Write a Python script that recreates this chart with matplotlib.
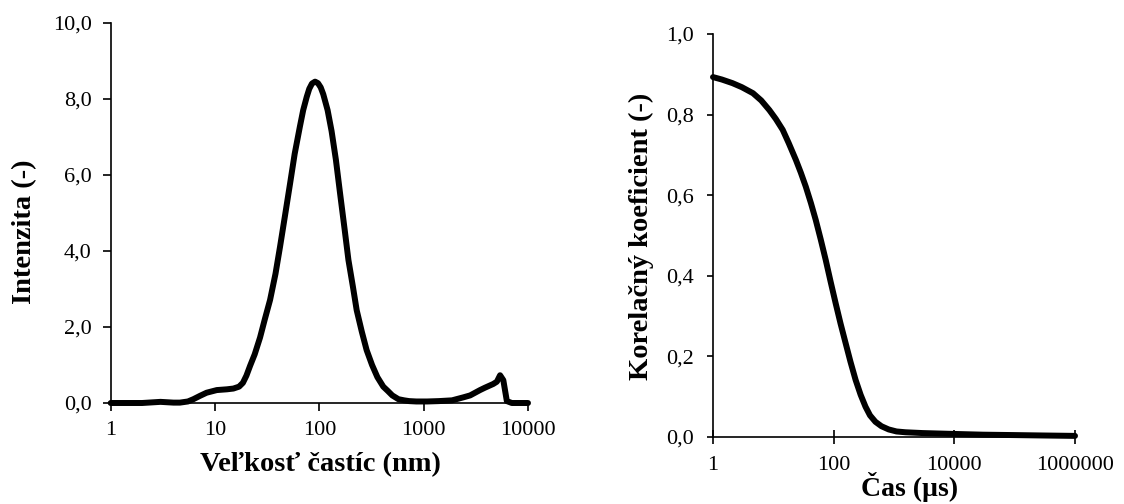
import matplotlib
matplotlib.use('Agg')
import matplotlib.pyplot as plt
from matplotlib.ticker import FixedLocator, FuncFormatter, NullLocator

plt.rcParams['font.family'] = ['Liberation Serif', 'DejaVu Serif']

# particle size distribution (intensity vs. size, nm)
size_nm = [1, 2, 3, 4, 4.6, 5.5, 6.2, 7.2, 8.3, 10.4, 13, 15, 17, 18.5, 20, 21.7,
           24, 27, 30, 33.7, 38, 42, 47, 52.4, 58, 65, 70, 75.7, 80, 85, 91,
           97, 103, 109, 120, 131, 144, 158, 175, 190, 210, 228, 255, 284, 320,
           360, 410, 452, 500, 573, 650, 725, 850, 1080, 1400, 1870, 2410, 2790,
           3470, 3850, 4640, 5030, 5400, 5800, 6270, 7000, 10000]
intensity = [0.0, 0.0, 0.03, 0.01, 0.01, 0.04, 0.1, 0.19, 0.27, 0.34, 0.36, 0.38,
             0.43, 0.53, 0.72, 0.98, 1.28, 1.72, 2.2, 2.71, 3.4, 4.11, 4.95,
             5.77, 6.55, 7.26, 7.7, 8.05, 8.26, 8.4, 8.45, 8.41, 8.3, 8.12, 7.7,
             7.15, 6.4, 5.51, 4.55, 3.76, 3.05, 2.44, 1.88, 1.39, 1.0, 0.68,
             0.43, 0.32, 0.2, 0.1, 0.07, 0.05, 0.04, 0.04, 0.05, 0.07, 0.15,
             0.2, 0.34, 0.4, 0.5, 0.56, 0.73, 0.6, 0.05, 0.0, 0.0]

# correlation function (coefficient vs. time, us)
time_us = [1, 1.4, 2.1, 3, 4.6, 6.3, 8.6, 11, 14.3, 18, 23.7, 28.5, 34.5, 42,
           50.5, 61, 73.8, 89, 108, 130, 158, 190, 231, 280, 337, 400, 492,
           620, 817, 1100, 1550, 3000, 9100, 30000, 100000, 300000, 1000000]
corr = [0.893, 0.887, 0.878, 0.868, 0.853, 0.835, 0.811, 0.789, 0.762, 0.729,
        0.687, 0.656, 0.621, 0.58, 0.538, 0.49, 0.439, 0.385, 0.331, 0.281,
        0.232, 0.186, 0.141, 0.104, 0.0745, 0.053, 0.037, 0.026, 0.018, 0.013,
        0.011, 0.009, 0.007, 0.005, 0.004, 0.003, 0.002]

left_yticks = [0, 2, 4, 6, 8, 10]
left_xticks = [1, 10, 100, 1000, 10000]
right_yticks = [0, 0.2, 0.4, 0.6, 0.8, 1.0]
right_xticks = [1, 100, 10000, 1000000]

comma = FuncFormatter(lambda v, p: ('%.1f' % v).replace('.', ','))
plain = FuncFormatter(lambda v, p: '%d' % round(v))

fig = plt.figure(figsize=(11.24, 5.04), dpi=100)
W, H = 1124.0, 504.0

ax1 = fig.add_axes([110.7 / W, (H - 403) / H, 417.3 / W, 380.3 / H])
ax2 = fig.add_axes([713 / W, (H - 436.7) / H, 362 / W, 402.7 / H])

ax1.plot(size_nm, intensity, color='black', lw=4.3, clip_on=False,
         solid_joinstyle='round', solid_capstyle='round')
ax2.plot(time_us, corr, color='black', lw=4.3, clip_on=False,
         solid_joinstyle='round', solid_capstyle='round')

for ax in (ax1, ax2):
    ax.set_xscale('log')
    for s in ('top', 'right'):
        ax.spines[s].set_visible(False)
    for s in ('left', 'bottom'):
        ax.spines[s].set_linewidth(1.2)
    ax.xaxis.set_minor_locator(NullLocator())
    ax.yaxis.set_minor_locator(NullLocator())
    ax.yaxis.set_major_formatter(comma)
    ax.xaxis.set_major_formatter(plain)

ax1.set_xlim(1, 10000)
ax1.set_ylim(0, 10)
ax1.xaxis.set_major_locator(FixedLocator(left_xticks))
ax1.yaxis.set_major_locator(FixedLocator(left_yticks))
ax1.tick_params(axis='both', direction='out', length=5.7, width=1.2, labelsize=16)
ax1.tick_params(axis='y', pad=8)
ax1.tick_params(axis='x', pad=7)

ax2.set_xlim(1, 1000000)
ax2.set_ylim(0, 1)
ax2.xaxis.set_major_locator(FixedLocator(right_xticks))
ax2.yaxis.set_major_locator(FixedLocator(right_yticks))
ax2.tick_params(axis='y', direction='out', length=4.5, width=1.2, labelsize=16, pad=9)
ax2.tick_params(axis='x', direction='inout', length=10, width=1.2, labelsize=16, pad=9)

lab = dict(fontsize=20.5, fontweight='bold')
ax1.set_xlabel('Veľkosť častíc (nm)', va='center', **lab)
ax1.xaxis.set_label_coords(320 / W, 1 - 465 / H, transform=fig.transFigure)
ax1.set_ylabel('Intenzita (-)', va='center', **lab)
ax1.yaxis.set_label_coords(25 / W, 1 - 232 / H, transform=fig.transFigure)

ax2.set_xlabel('Čas (µs)', va='baseline', fontsize=20, fontweight='bold')
ax2.xaxis.set_label_coords(910 / W, 1 - 496 / H, transform=fig.transFigure)
ax2.set_ylabel('Korelačný koeficient (-)', va='center', **lab)
ax2.yaxis.set_label_coords(641 / W, 1 - 236 / H, transform=fig.transFigure)

fig.savefig('out.png', dpi=100)
